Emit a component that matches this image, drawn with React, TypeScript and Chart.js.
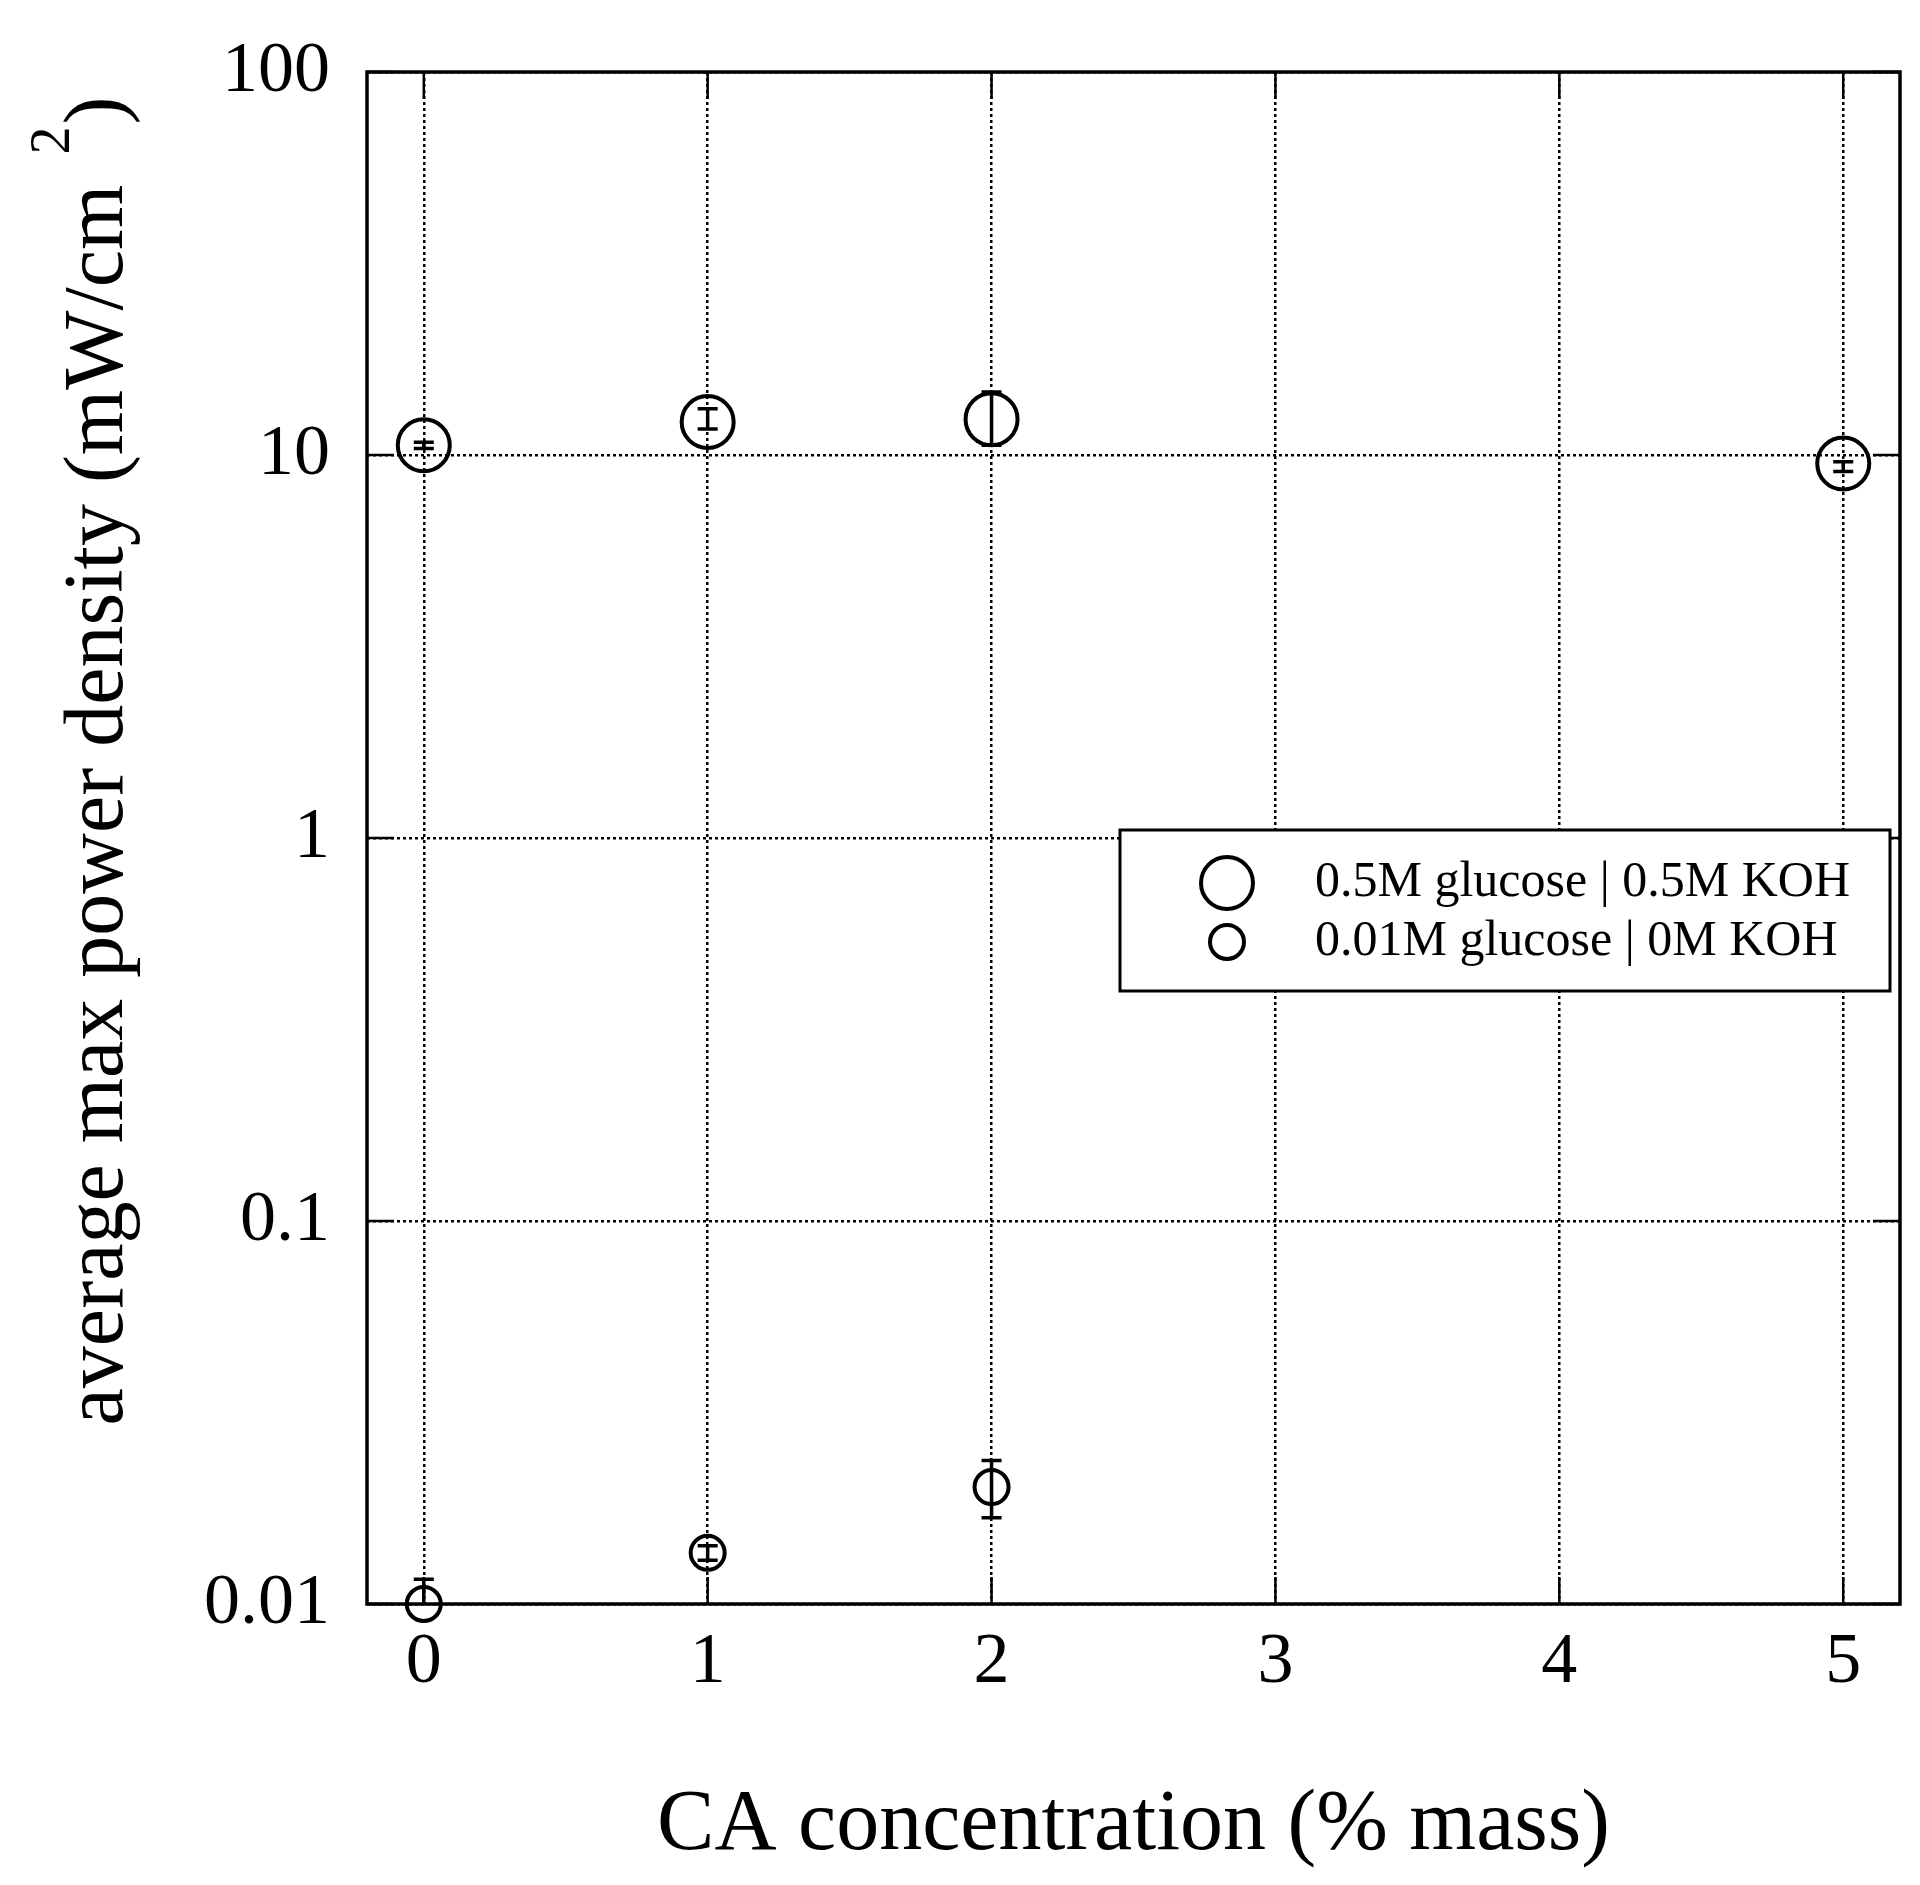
import React, { useEffect, useRef } from 'react';
import { Chart, registerables } from 'chart.js';

Chart.register(...registerables);

// ---- data ----
const xTickValues = [0, 1, 2, 3, 4, 5];
const yTickValues = [0.01, 0.1, 1, 10, 100];
const yTickLabels = ['0.01', '0.1', '1', '10', '100'];

const seriesALabel = '0.5M glucose | 0.5M KOH';
const seriesAX = [0, 1, 2, 5];
const seriesAY = [10.6, 12.2, 12.4, 9.5];
const seriesALow = [10.4, 11.7, 10.6, 9.05];
const seriesAHigh = [10.8, 13.2, 14.6, 9.6];

const seriesBLabel = '0.01M glucose | 0M KOH';
const seriesBX = [0, 1, 2];
const seriesBY = [0.01, 0.0136, 0.0202];
const seriesBLow = [0.0086, 0.013, 0.0168];
const seriesBHigh = [0.0116, 0.0142, 0.0237];

const xTitle = 'CA concentration (% mass)';
const yTitleMain = 'average max power density (mW/cm';
const yTitleSup = '2';
const yTitleEnd = ')';

const FONT = '"Liberation Serif", "DejaVu Serif", serif';

const zeroPad = () => ({ left: 0, top: 0, right: 0, bottom: 0 });

const decorPlugin = {
  id: 'decor',
  beforeDatasetsDraw(chart: any) {
    const { ctx, chartArea: a, scales } = chart;
    const x = scales.x;
    const y = scales.y;
    ctx.save();
    ctx.strokeStyle = '#000';
    ctx.lineWidth = 2.5;
    ctx.setLineDash([]);
    const tl = 27;
    xTickValues.forEach((v) => {
      const px = x.getPixelForValue(v);
      ctx.beginPath();
      ctx.moveTo(px, a.bottom);
      ctx.lineTo(px, a.bottom - tl);
      ctx.moveTo(px, a.top);
      ctx.lineTo(px, a.top + tl);
      ctx.stroke();
    });
    yTickValues.forEach((v) => {
      const py = y.getPixelForValue(v);
      ctx.beginPath();
      ctx.moveTo(a.left, py);
      ctx.lineTo(a.left + tl, py);
      ctx.moveTo(a.right, py);
      ctx.lineTo(a.right - tl, py);
      ctx.stroke();
    });
    ctx.lineWidth = 3.5;
    ctx.strokeRect(a.left, a.top, a.right - a.left, a.bottom - a.top);
    ctx.restore();

    // y-axis title (rotated), with raised superscript
    ctx.save();
    ctx.fillStyle = '#000';
    ctx.translate(100, 761);
    ctx.rotate(-Math.PI / 2);
    ctx.textBaseline = 'middle';
    ctx.textAlign = 'left';
    const mainFont = '84px ' + FONT;
    const supFont = '56px ' + FONT;
    ctx.font = mainFont;
    const w1 = ctx.measureText(yTitleMain).width;
    ctx.font = supFont;
    const w2 = ctx.measureText(yTitleSup).width;
    ctx.font = mainFont;
    const w3 = ctx.measureText(yTitleEnd).width;
    const gap1 = 30;
    const gap2 = 2;
    const total = w1 + gap1 + w2 + gap2 + w3;
    let cx = -total / 2;
    ctx.fillText(yTitleMain, cx, 0);
    cx += w1 + gap1;
    ctx.font = supFont;
    ctx.fillText(yTitleSup, cx, -46);
    cx += w2 + gap2;
    ctx.font = mainFont;
    ctx.fillText(yTitleEnd, cx, 0);
    ctx.restore();
  },
  afterDatasetsDraw(chart: any) {
    const { ctx, chartArea: a, scales } = chart;
    const x = scales.x;
    const y = scales.y;
    ctx.save();
    ctx.beginPath();
    ctx.rect(a.left, a.top, a.right - a.left, a.bottom - a.top);
    ctx.clip();
    ctx.strokeStyle = '#000';
    ctx.lineWidth = 3.5;
    ctx.setLineDash([]);
    const cap = 10;
    chart.data.datasets.forEach((ds: any) => {
      ds.data.forEach((p: any, i: number) => {
        const px = x.getPixelForValue(p.x);
        const yl = y.getPixelForValue(ds.errLow[i]);
        const yh = y.getPixelForValue(ds.errHigh[i]);
        ctx.beginPath();
        ctx.moveTo(px, yl);
        ctx.lineTo(px, yh);
        ctx.moveTo(px - cap, yl);
        ctx.lineTo(px + cap, yl);
        ctx.moveTo(px - cap, yh);
        ctx.lineTo(px + cap, yh);
        ctx.stroke();
      });
    });
    ctx.restore();

    // legend box
    ctx.save();
    const bx = 1120, by = 830, bw = 770, bh = 161;
    ctx.fillStyle = '#fff';
    ctx.fillRect(bx, by, bw, bh);
    ctx.strokeStyle = '#000';
    ctx.lineWidth = 3;
    ctx.setLineDash([]);
    ctx.strokeRect(bx, by, bw, bh);
    const rows = [883, 942];
    ctx.font = '50px ' + FONT;
    ctx.textBaseline = 'middle';
    ctx.textAlign = 'left';
    ctx.fillStyle = '#000';
    chart.data.datasets.forEach((ds: any, i: number) => {
      ctx.beginPath();
      ctx.lineWidth = ds.borderWidth;
      ctx.arc(1227, rows[i], ds.pointRadius, 0, Math.PI * 2);
      ctx.stroke();
      ctx.fillText(ds.label, 1315, rows[i]);
    });
    ctx.restore();
  },
};

export default function App() {
  const ref = useRef<HTMLCanvasElement>(null);
  useEffect(() => {
    if (!ref.current) return;
    Chart.defaults.font.family = FONT;
    Chart.defaults.color = '#000';
    const chart = new Chart(ref.current, {
      type: 'scatter',
      data: {
        datasets: [
          {
            label: seriesALabel,
            data: seriesAX.map((v, i) => ({ x: v, y: seriesAY[i] })),
            errLow: seriesALow,
            errHigh: seriesAHigh,
            pointStyle: 'circle',
            pointRadius: 26,
            pointHoverRadius: 26,
            borderWidth: 4,
            borderColor: '#000',
            backgroundColor: 'rgba(0,0,0,0)',
            clip: false,
          } as any,
          {
            label: seriesBLabel,
            data: seriesBX.map((v, i) => ({ x: v, y: seriesBY[i] })),
            errLow: seriesBLow,
            errHigh: seriesBHigh,
            pointStyle: 'circle',
            pointRadius: 17,
            pointHoverRadius: 17,
            borderWidth: 4,
            borderColor: '#000',
            backgroundColor: 'rgba(0,0,0,0)',
            clip: false,
          } as any,
        ],
      },
      options: {
        animation: false,
        responsive: false,
        devicePixelRatio: 1,
        events: [],
        layout: { padding: { left: 0, top: 72, right: 20, bottom: 0 } },
        plugins: { legend: { display: false }, tooltip: { enabled: false } },
        scales: {
          x: {
            type: 'linear',
            min: -0.2,
            max: 5.2,
            afterBuildTicks: (s: any) => {
              s.ticks = xTickValues.map((v) => ({ value: v }));
            },
            afterFit: (s: any) => {
              s.height = 281;
              s.paddingLeft = 0;
              s.paddingRight = 0;
              s.getPadding = zeroPad;
            },
            ticks: {
              autoSkip: false,
              maxRotation: 0,
              padding: 16,
              font: { size: 72, family: FONT },
              color: '#000',
              callback: (v: any) => String(v),
            },
            grid: { color: '#000', lineWidth: 2.5, drawTicks: false },
            border: { display: false, dash: [3, 3] },
            title: {
              display: true,
              text: xTitle,
              font: { size: 86, family: FONT },
              color: '#000',
              padding: { top: 0, bottom: 7 },
            },
          },
          y: {
            type: 'logarithmic',
            min: 0.01,
            max: 100,
            afterBuildTicks: (s: any) => {
              s.ticks = yTickValues.map((v) => ({ value: v }));
            },
            afterFit: (s: any) => {
              s.width = 367;
              s.paddingTop = 0;
              s.paddingBottom = 0;
              s.getPadding = zeroPad;
            },
            ticks: {
              autoSkip: false,
              padding: 37,
              font: { size: 72, family: FONT },
              color: '#000',
              callback: (_v: any, i: number) => yTickLabels[i],
            },
            grid: { color: '#000', lineWidth: 2.5, drawTicks: false },
            border: { display: false, dash: [3, 3] },
            title: { display: false },
          },
        },
      },
      plugins: [decorPlugin],
    } as any);
    return () => chart.destroy();
  }, []);
  return (
    <div style={{ position: 'absolute', left: 0, top: 0, width: 1920, height: 1885, overflow: 'hidden', background: '#fff' }}>
      <canvas ref={ref} width={1930} height={1885} style={{ display: 'block' }} />
    </div>
  );
}
